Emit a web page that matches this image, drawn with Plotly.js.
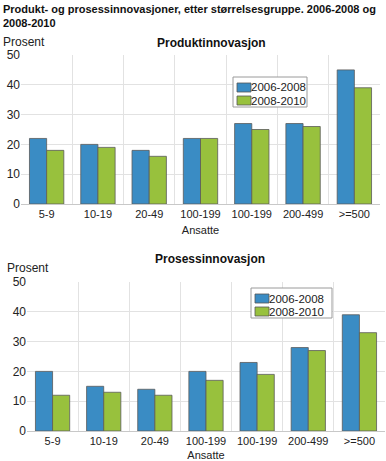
<!DOCTYPE html>
<html><head><meta charset="utf-8">
<script src="https://cdn.plot.ly/plotly-3.0.1.min.js"></script>
<style>html,body{margin:0;padding:0;background:#fff}#c{width:386px;height:461px}</style>
</head><body><div id="c"></div>
<script>
const tickLabels = ["5-9","10-19","20-49","100-199","100-199","200-499",">=500"];
const seriesNames = ["2006-2008","2008-2010"];
const produkt0608 = [22,20,18,22,27,27,45];
const produkt0810 = [18,19,16,22,25,26,39];
const prosess0608 = [20,15,14,20,23,28,39];
const prosess0810 = [12,13,12,17,19,27,33];
const xpos = tickLabels.map((_, i) => i);

const blue = '#3a8cc4', green = '#98c13d';
const colors = [blue, green];
const lineStyle = {color:'#5a5a5a', width:0.8};
const FONT = '"Liberation Sans", Arial, sans-serif';
const H = 461, W = 386;
const px = v => v / W, py = v => 1 - v / H;

const traces = [
  {type:'bar', x:xpos, y:produkt0608, name:seriesNames[0], marker:{color:blue, line:lineStyle}, xaxis:'x', yaxis:'y'},
  {type:'bar', x:xpos, y:produkt0810, name:seriesNames[1], marker:{color:green, line:lineStyle}, xaxis:'x', yaxis:'y'},
  {type:'bar', x:xpos, y:prosess0608, name:seriesNames[0], marker:{color:blue, line:lineStyle}, xaxis:'x2', yaxis:'y2'},
  {type:'bar', x:xpos, y:prosess0810, name:seriesNames[1], marker:{color:green, line:lineStyle}, xaxis:'x2', yaxis:'y2'}
];

function xax(domain, anchor){
  return {domain:domain, anchor:anchor, range:[-0.5,6.5], tickmode:'array', tickvals:xpos, ticktext:tickLabels,
    showgrid:false, zeroline:false, showline:true, linecolor:'#c8c8c8', linewidth:1, mirror:false,
    ticks:'', tickfont:{size:11, color:'#222'}, fixedrange:true,
    minor:{tickmode:'array', tickvals:[-0.5,0.5,1.5,2.5,3.5,4.5,5.5,6.5], showgrid:true, gridcolor:'#e2e2e2', gridwidth:1, ticks:''},
    title:{text:'Ansatte', font:{size:11, color:'#222'}, standoff:7}};
}
function yax(domain, anchor){
  return {domain:domain, anchor:anchor, range:[0,50], dtick:10, showgrid:true, gridcolor:'#e2e2e2', gridwidth:1,
    zeroline:false, showline:false, ticks:'', tickfont:{size:12, color:'#222'}, fixedrange:true};
}

// Compact legend box (drawn in paper coordinates)
const shapes = [], annotations = [];
function legendBox(x0, y0, w, h){
  shapes.push({type:'rect', xref:'paper', yref:'paper', x0:px(x0), x1:px(x0+w), y0:py(y0), y1:py(y0+h),
    fillcolor:'#fff', line:{color:'#9a9a9a', width:1}, layer:'above'});
  seriesNames.forEach((name, i) => {
    const sy = y0 + 6 + i*13;
    shapes.push({type:'rect', xref:'paper', yref:'paper', x0:px(x0+4), x1:px(x0+18), y0:py(sy), y1:py(sy+9),
      fillcolor:colors[i], line:{color:'#555', width:0.8}, layer:'above'});
    annotations.push({text:name, xref:'paper', yref:'paper', x:px(x0+18), y:py(sy+4.5), xanchor:'left', yanchor:'middle',
      showarrow:false, font:{size:11.5, color:'#222'}, borderpad:0, xshift:-1});
  });
}
legendBox(233, 77, 74, 30);
legendBox(251, 288, 81, 30);

annotations.push(
  {text:'<b>Produkt- og prosessinnovasjoner, etter størrelsesgruppe. 2006-2008 og<br>2008-2010</b>', xref:'paper', yref:'paper',
   x:px(1), y:py(1), xanchor:'left', yanchor:'top', align:'left', showarrow:false, font:{size:11, color:'#111'}},
  {text:'Prosent', xref:'paper', yref:'paper', x:px(1), y:py(33), xanchor:'left', yanchor:'top', showarrow:false, font:{size:12, color:'#222'}},
  {text:'<b>Produktinnovasjon</b>', xref:'paper', yref:'paper', x:px(212), y:py(34), xanchor:'center', yanchor:'top', showarrow:false, font:{size:12, color:'#111'}},
  {text:'Prosent', xref:'paper', yref:'paper', x:px(5), y:py(259), xanchor:'left', yanchor:'top', showarrow:false, font:{size:12, color:'#222'}},
  {text:'<b>Prosessinnovasjon</b>', xref:'paper', yref:'paper', x:px(210), y:py(250), xanchor:'center', yanchor:'top', showarrow:false, font:{size:12, color:'#111'}}
);

const layout = {
  width:W, height:H, margin:{l:0,r:0,t:0,b:0}, paper_bgcolor:'#fff', plot_bgcolor:'#fff',
  font:{family:FONT, color:'#222'},
  barmode:'group', bargap:0.33, bargroupgap:0, showlegend:false,
  xaxis: xax([px(21), px(380)], 'y'),
  yaxis: yax([py(204), py(55)], 'x'),
  xaxis2: xax([px(27), px(385)], 'y2'),
  yaxis2: yax([py(431), py(282)], 'x2'),
  shapes: shapes, annotations: annotations
};
Plotly.newPlot('c', traces, layout, {displayModeBar:false, staticPlot:true});
</script></body></html>
